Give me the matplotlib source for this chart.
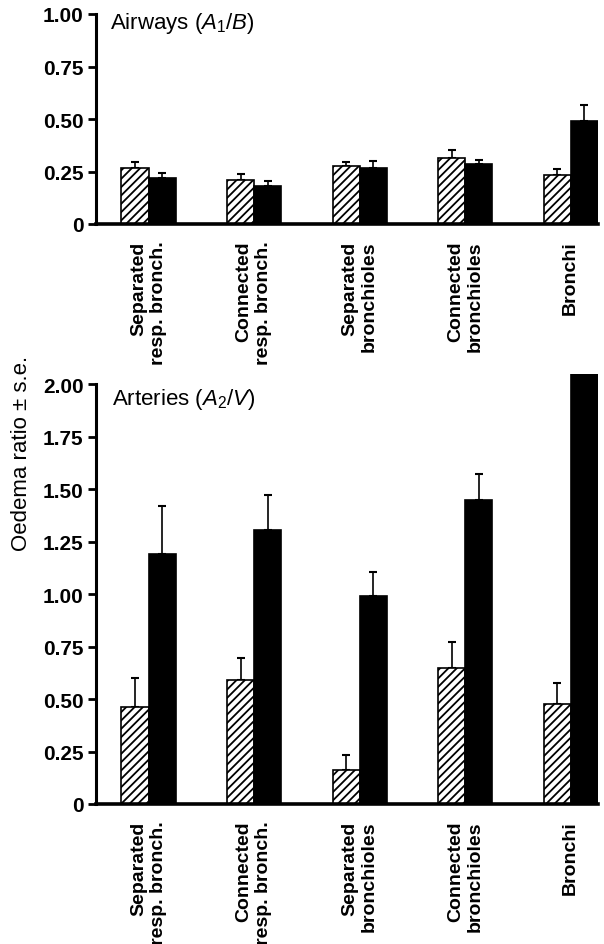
import matplotlib
matplotlib.use("Agg")
import matplotlib.pyplot as plt
import numpy as np

plt.rcParams['font.family'] = ['Liberation Sans', 'DejaVu Sans']
plt.rcParams['mathtext.fontset'] = 'custom'
plt.rcParams['mathtext.rm'] = 'Liberation Sans'
plt.rcParams['mathtext.it'] = 'Liberation Sans:italic'
plt.rcParams['hatch.linewidth'] = 1.3

# data
categories = ["Separated\nresp. bronch.", "Connected\nresp. bronch.",
              "Separated\nbronchioles", "Connected\nbronchioles", "Bronchi"]
air_hatched = [0.265, 0.21, 0.278, 0.313, 0.235]
air_hatched_err = [0.029, 0.028, 0.019, 0.041, 0.027]
air_black = [0.219, 0.182, 0.265, 0.286, 0.492]
air_black_err = [0.024, 0.021, 0.033, 0.019, 0.075]
art_hatched = [0.463, 0.59, 0.163, 0.646, 0.479]
art_hatched_err = [0.137, 0.108, 0.07, 0.127, 0.10]
art_black = [1.19, 1.306, 0.992, 1.448, 2.05]
art_black_err = [0.23, 0.165, 0.116, 0.127, 0.0]
air_ticks = [0, 0.25, 0.5, 0.75, 1.0]
air_ticklabels = ['0', '0.25', '0.50', '0.75', '1.00']
art_ticks = [0, 0.25, 0.5, 0.75, 1.0, 1.25, 1.5, 1.75, 2.0]
art_ticklabels = ['0', '0.25', '0.50', '0.75', '1.00', '1.25', '1.50', '1.75', '2.00']

fig = plt.figure(figsize=(6.04, 9.45), dpi=100)
ax1 = fig.add_axes([96/604, 1-225/945, 502/604, 210/945])
ax2 = fig.add_axes([96/604, 1-805/945, 502/604, 430/945])

x = np.arange(len(categories))
w = 0.256


def panel(ax, hv, he, bv, be, ticks, ticklabels, ytop, spine_top):
    ax.bar(x - w/2, hv, w, color='white', edgecolor='black', hatch='////',
           linewidth=1.2, zorder=2)
    ax.bar(x + w/2, bv, w, color='black', edgecolor='black', linewidth=1.2, zorder=2)
    ax.errorbar(x - w/2, hv, yerr=[np.zeros(len(hv)), he], fmt='none',
                ecolor='black', elinewidth=1.2, capsize=3, capthick=1.5, zorder=1)
    bev = np.array(be)
    m = bev > 0
    ax.errorbar((x + w/2)[m], np.array(bv)[m], yerr=[np.zeros(m.sum()), bev[m]],
                fmt='none', ecolor='black', elinewidth=1.2, capsize=3,
                capthick=1.5, zorder=1)
    ax.set_xlim(-0.4976, 4.26)
    ax.set_ylim(0, ytop)
    ax.set_yticks(ticks)
    ax.set_yticklabels(ticklabels, fontsize=15, fontweight='bold')
    ax.set_xticks(x)
    ax.set_xticklabels(categories, rotation=90, fontsize=14, fontweight='bold',
                       va='top', ha='center', multialignment='right')
    ax.tick_params(axis='x', length=0, pad=12)
    ax.tick_params(axis='y', length=6, width=2, direction='out', pad=3)
    for s in ['top', 'right']:
        ax.spines[s].set_visible(False)
    ax.spines['left'].set_linewidth(2.2)
    ax.spines['bottom'].set_linewidth(2.6)
    ax.spines['left'].set_bounds(0, spine_top)
    ax.set_facecolor('none')


panel(ax1, air_hatched, air_hatched_err, air_black, air_black_err,
      air_ticks, air_ticklabels, 1.0, 1.0)
panel(ax2, art_hatched, art_hatched_err, art_black, art_black_err,
      art_ticks, art_ticklabels, 2.05, 2.0)

fig.text(110/604, 1-23/945, r'Airways ($A_1$/$B$)', fontsize=16, va='center', ha='left')
fig.text(112/604, 1-399/945, r'Arteries ($A_2$/$V$)', fontsize=16, va='center', ha='left')
fig.text(22/604, 1-453/945, 'Oedema ratio ± s.e.', fontsize=16, rotation=90,
         va='center', ha='center')

fig.savefig('out.png', dpi=100)
